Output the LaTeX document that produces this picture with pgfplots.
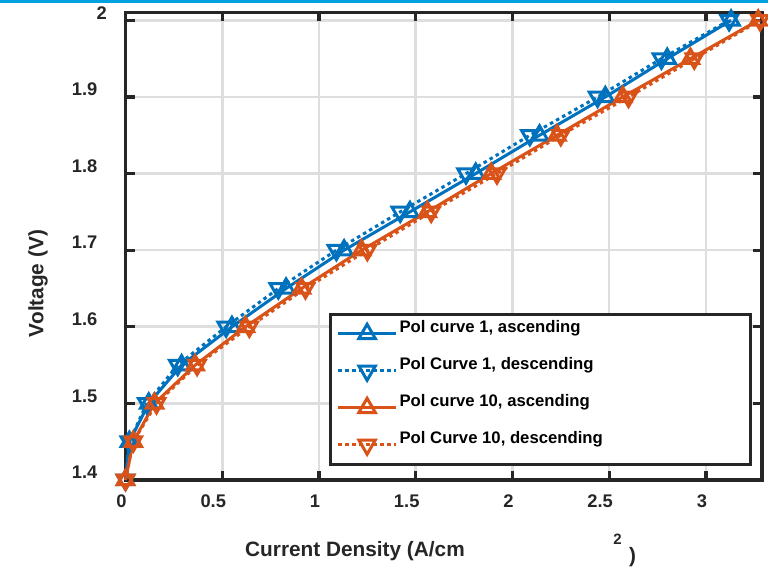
\documentclass[border=0pt]{standalone}
\usepackage{fontspec}
\setmainfont{Liberation Sans}
\usepackage{pgfplots}
\pgfplotsset{compat=1.18}
\definecolor{mblue}{rgb}{0,0.447,0.741}
\definecolor{morange}{rgb}{0.85,0.325,0.098}
\definecolor{axgray}{rgb}{0.15,0.15,0.15}
\definecolor{gridgray}{RGB}{222,222,222}
\definecolor{topblue}{RGB}{0,160,225}
\newcommand{\lgent}[1]{\makebox[345bp][l]{\raisebox{1bp}{#1}}}
\begin{document}
\begin{tikzpicture}[x=1bp,y=1bp]
\useasboundingbox (0,0) rectangle (768,570);
\begin{axis}[
  at={(125.5bp,90bp)}, anchor=south west,
  scale only axis, width=636.5bp, height=467.5bp,
  xmin=0, xmax=3.29, ymin=1.4, ymax=2.0103,
  clip=false,
  xtick={0,0.5,1,1.5,2,2.5,3},
  xticklabels={0\kern8bp,0.5\kern18bp,1\kern8bp,1.5\kern18bp,2\kern8bp,2.5\kern18bp,3\kern8bp},
  ytick={1.4,1.5,1.6,1.7,1.8,1.9,2},
  yticklabels={1.4,1.5,1.6,1.7,1.8,1.9,2\kern-10bp},
  /pgf/number format/assume math mode=true,
  ticklabel style={font=\fontsize{18.3bp}{20bp}\selectfont\bfseries, text=axgray, inner sep=0pt},
  xticklabel style={anchor=north, yshift=-15bp},
  yticklabel style={anchor=east, xshift=-28bp, yshift=7.5bp},
  axis line style={axgray, line width=3.2bp},
  every tick/.style={axgray, line width=3.2bp},
  major tick length=9bp,
  tick align=inside,
  grid=major,
  major grid style={gridgray, line width=2.6bp},
  every axis plot/.append style={line width=3bp, mark size=9.5bp},
  legend cell align=left,
  legend image code/.code={\draw[mark repeat=2,mark phase=2,#1] plot coordinates {(0bp,0bp) (29bp,0bp) (58bp,0bp)};},
  legend style={at={(axis description cs:0.3197,0.3579)}, anchor=north west,
    draw=axgray, line width=3.2bp, fill=white,
    inner xsep=6bp, inner ysep=1bp, row sep=0pt, column sep=2bp,
    nodes={inner sep=0pt, text height=18.5bp, text depth=18.5bp, font=\fontsize{16.7bp}{18bp}\selectfont\bfseries, text=black}},
]
\addplot[mblue, solid, mark=triangle, mark options={solid}] coordinates {
(0,1.40)(0.02,1.45)(0.12,1.50)(0.29,1.55)(0.55,1.60)(0.83,1.65)(1.13,1.70)(1.47,1.75)(1.81,1.80)(2.14,1.85)(2.48,1.90)(2.80,1.95)(3.13,2.00)};
\addlegendentry{\lgent{Pol curve 1, ascending}}
\addplot[mblue, dash pattern=on 3.5bp off 3.5bp, mark=triangle, mark options={solid, rotate=180}] coordinates {
(0,1.40)(0.02,1.45)(0.11,1.50)(0.27,1.55)(0.52,1.60)(0.79,1.65)(1.09,1.70)(1.42,1.75)(1.76,1.80)(2.09,1.85)(2.44,1.90)(2.77,1.95)(3.12,2.00)};
\addlegendentry{\lgent{Pol Curve 1, descending}}
\addplot[morange, solid, mark=triangle, mark options={solid}] coordinates {
(0,1.40)(0.04,1.45)(0.15,1.50)(0.36,1.55)(0.62,1.60)(0.91,1.65)(1.22,1.70)(1.56,1.75)(1.89,1.80)(2.23,1.85)(2.57,1.90)(2.92,1.95)(3.27,2.00)};
\addlegendentry{\lgent{Pol curve 10, ascending}}
\addplot[morange, dash pattern=on 3.5bp off 3.5bp, mark=triangle, mark options={solid, rotate=180}] coordinates {
(0,1.40)(0.04,1.45)(0.16,1.50)(0.37,1.55)(0.64,1.60)(0.93,1.65)(1.25,1.70)(1.58,1.75)(1.92,1.80)(2.25,1.85)(2.60,1.90)(2.94,1.95)(3.28,2.00)};
\addlegendentry{\lgent{Pol Curve 10, descending}}
\end{axis}
\fill[topblue] (0,566.8) rectangle (768,570);
\node[font=\fontsize{20.8bp}{22bp}\selectfont\bfseries, text=axgray, anchor=base] at (355,13) {Current Density (A/cm};
\node[font=\fontsize{15bp}{17bp}\selectfont\bfseries, text=axgray, anchor=base] at (617.5,25) {2};
\node[font=\fontsize{20.8bp}{22bp}\selectfont\bfseries, text=axgray, anchor=base] at (632.5,7) {)};
\node[font=\fontsize{20.8bp}{22bp}\selectfont\bfseries, text=axgray, rotate=90] at (38,286.5) {Voltage (V)};
\end{tikzpicture}
\end{document}
